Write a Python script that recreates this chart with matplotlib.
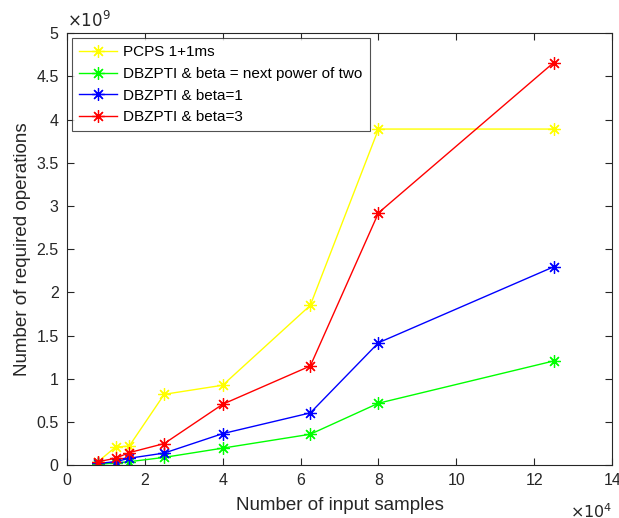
import matplotlib.pyplot as plt
import numpy as np

plt.rcParams['font.family'] = ['Liberation Sans', 'DejaVu Sans']

# === Data (x in units of 1e4 samples, y in units of 1e9 operations) ===
n_samples = [0.8, 1.25, 1.6, 2.5, 4.0, 6.25, 8.0, 12.5]
pcps = [0.04, 0.21, 0.22, 0.82, 0.925, 1.85, 3.89, 3.89]
dbz_pow2 = [0.01, 0.025, 0.04, 0.09, 0.197, 0.358, 0.717, 1.206]
dbz_beta1 = [0.02, 0.04, 0.08, 0.14, 0.365, 0.605, 1.417, 2.296]
dbz_beta3 = [0.04, 0.08, 0.145, 0.25, 0.705, 1.148, 2.92, 4.66]

labels = ['PCPS 1+1ms', 'DBZPTI & beta = next power of two',
          'DBZPTI & beta=1', 'DBZPTI & beta=3']
colors = ['#ffff00', '#00ff00', '#0000ff', '#ff0000']

# === Figure ===
fig = plt.figure(figsize=(6.19, 5.18), dpi=100)
ax = fig.add_axes([0.108, 0.102, 0.881, 0.834])

asterisk = (8, 2, 0)
for ys, c, lab in zip([pcps, dbz_pow2, dbz_beta1, dbz_beta3], colors, labels):
    ax.plot(n_samples, ys, color=c, marker=asterisk, markersize=9,
            markeredgewidth=0.9, linewidth=1.0, label=lab)

ax.set_xlim(0, 14)
ax.set_ylim(0, 5)
ax.set_xticks(np.arange(0, 15, 2))
ax.set_yticks(np.arange(0, 5.01, 0.5))
ax.set_yticklabels(['0', '0.5', '1', '1.5', '2', '2.5', '3', '3.5', '4', '4.5', '5'])

axis_col = '#262626'
for s in ax.spines.values():
    s.set_color(axis_col)
    s.set_linewidth(0.8)
ax.tick_params(direction='in', top=True, right=True, length=5,
               color=axis_col, labelcolor=axis_col, labelsize=11.5, pad=6)

ax.set_xlabel('Number of input samples', fontsize=13.5, color=axis_col, labelpad=6)
ax.set_ylabel('Number of required operations', fontsize=13.5, color=axis_col, labelpad=4)

# exponent labels like MATLAB
ax.text(0.0, 1.005, r'$\times10^{9}$', transform=ax.transAxes, fontsize=12,
        color=axis_col, ha='left', va='bottom', family='DejaVu Sans')
ax.text(1.0, -0.085, r'$\times10^{4}$', transform=ax.transAxes, fontsize=11.5,
        color=axis_col, ha='right', va='top', family='DejaVu Sans')

leg = ax.legend(loc='upper left', fontsize=11, frameon=True, fancybox=False,
                edgecolor='#262626', borderaxespad=0.35, handlelength=2.5,
                labelspacing=0.5, borderpad=0.45, handletextpad=0.4)
leg.get_frame().set_linewidth(0.8)

fig.savefig('out.png', dpi=100)
